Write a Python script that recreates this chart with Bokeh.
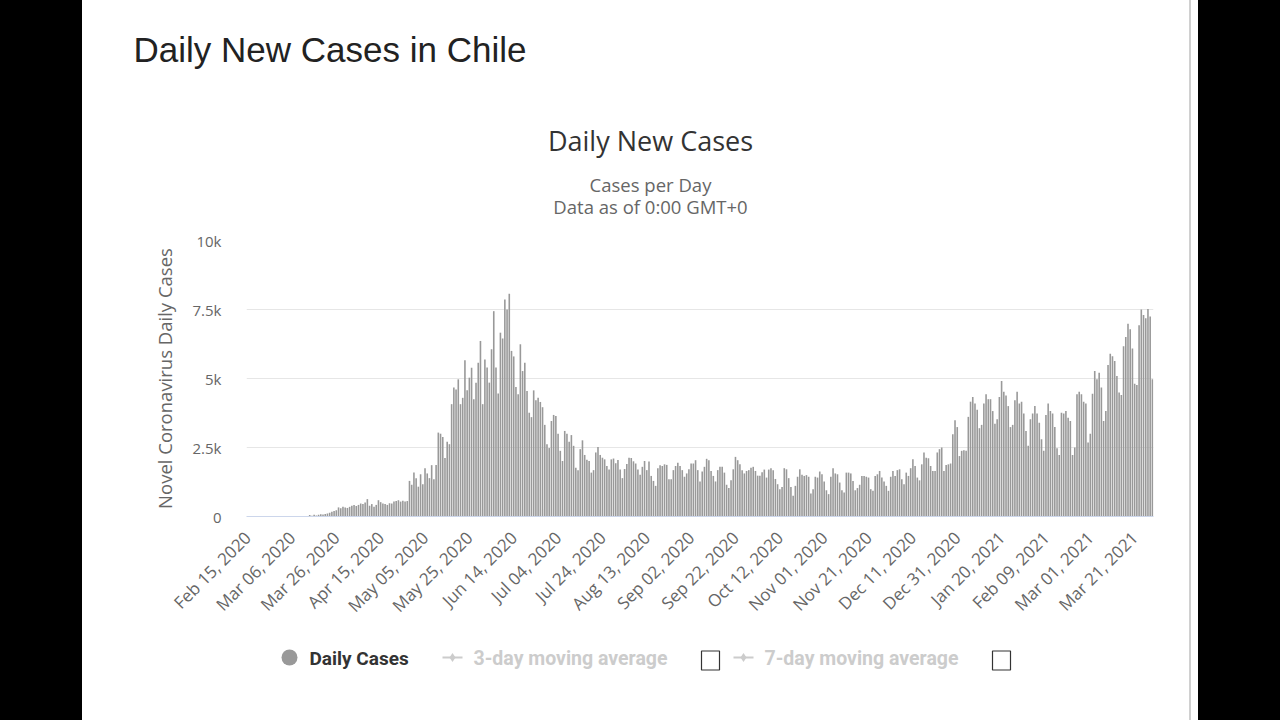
import math
from bokeh.plotting import figure
from bokeh.models import Range1d, FixedTicker, Div
from bokeh.layouts import row, column
from bokeh.core.properties import value
from bokeh.embed import file_html
from bokeh.resources import INLINE

# ---------------- data ----------------
tick_labels = ["Feb 15, 2020", "Mar 06, 2020", "Mar 26, 2020", "Apr 15, 2020", "May 05, 2020",
               "May 25, 2020", "Jun 14, 2020", "Jul 04, 2020", "Jul 24, 2020", "Aug 13, 2020",
               "Sep 02, 2020", "Sep 22, 2020", "Oct 12, 2020", "Nov 01, 2020", "Nov 21, 2020",
               "Dec 11, 2020", "Dec 31, 2020", "Jan 20, 2021", "Feb 09, 2021", "Mar 01, 2021",
               "Mar 21, 2021"]
tick_step = 20

cases_feb_mar = [0] * 17 + [1, 0, 2, 1, 3, 2, 3, 4, 8, 10, 14]
cases_mar_apr = [50, 30, 60, 40, 60, 80, 75, 90, 110, 140, 170, 200, 230, 330, 300, 350, 330,
                 310, 350, 390, 420, 380, 420, 470, 450, 510, 630]
cases_apr = [390, 450, 350, 420, 590, 520, 470, 450, 420, 480, 470, 540, 560, 590, 540, 570,
             540, 560]
cases_may_jun = [1290, 1150, 1590, 1390, 1080, 1530, 1170, 1750, 1560, 1390, 1860, 1350, 1870,
                 3040, 3000, 2880, 2120, 2710, 2620, 4070, 4670, 4600, 4970, 4070, 4300, 5660,
                 4570, 5030, 5390, 4250, 4850, 5570, 6360, 4070, 5690, 5400, 4850, 6060, 7440,
                 5400, 4460, 6660]
cases_jun_aug = [6450, 7860, 7500, 8070, 6000, 5800, 4690, 4430, 6240, 5270,
                 5570, 4550, 3760, 3600, 4570, 4210, 4300, 4150, 3960, 3320,
                 2620, 2480, 3460, 3680, 3640, 3000, 2380, 2010, 3100, 3000,
                 2710, 2950, 2560, 1770, 1680, 2440, 2760, 2230, 2060, 2010,
                 1590, 1680, 2320, 2520, 2230, 2130, 2070, 1830, 1700, 2070,
                 2100, 1930, 2050, 1700, 1390, 1720, 1900, 2130, 2120]
cases_aug_oct = [2000, 1920, 1700, 1510, 1800, 2010, 1680, 1990, 1470, 1290,
                 1110, 1750, 1860, 1830, 1890, 1870, 1350, 1350, 1680, 1830,
                 1950, 1830, 1680, 1440, 1560, 1710, 1920, 1920, 2040, 1680,
                 1270, 1630, 1800, 2090, 2040, 1650, 1470, 1270, 1680, 1800,
                 1800, 1590, 1150, 1030, 1310, 1710, 2160, 2040, 1890, 1680,
                 1560, 1650, 1680, 1770, 1800, 1650, 1480, 1480, 1600, 1700]
cases_oct_nov = [1410, 1700, 1750, 1680, 1360, 1170, 990, 1070, 1750, 1710,
                 1390, 1070, 750, 1110, 1440, 1710, 1510, 1470, 1500, 1440,
                 830, 990, 1440, 1410, 1630, 1530, 1270, 950, 810, 1440,
                 1750, 1560, 1530, 1230, 950, 870, 1590, 1590, 1560, 1290,
                 950, 1030, 1150, 1470, 1470, 1440, 1410, 990, 930, 1470,
                 1530, 1650, 1410, 1270, 1110, 930]
cases_dec_jan = [1440, 1650, 1470, 1680, 1710, 1350, 1170, 1590, 1470, 1750,
                 2070, 1830, 1410, 1310, 1890, 2320, 2130, 2110, 1830, 1650,
                 1650, 2320, 2440, 2500, 1650, 1870, 1890, 1920, 2980, 3490,
                 3240, 2190, 2380, 2400, 2380, 3610, 4160, 4330, 4090, 3870,
                 3200, 3320, 4090, 4430, 4250, 4250, 3820, 3360, 3520, 4330,
                 4910, 4520, 4380, 4000, 3240, 3320, 4210, 4520, 4090, 4160,
                 3730]
cases_feb_mar21 = [3100, 2560, 3520, 3730, 4000, 3730, 3400, 2800, 2380, 3680,
                   4090, 3820, 3730, 3240, 2470, 2230, 3760, 3730, 3820, 3580,
                   3460, 2230, 2500, 4430, 4520, 4430, 4160, 4090, 2680, 3000,
                   4450, 5270, 4970, 5210, 4670, 3460, 3820, 5490, 5900, 5810,
                   5630, 5090, 4490, 4400, 6170, 6500, 6980, 6780, 6090, 4810,
                   4760, 6930, 7500, 7300, 7180, 7520, 7250, 4970]

daily_cases = (cases_feb_mar + cases_mar_apr + cases_apr + cases_may_jun + cases_jun_aug
               + cases_aug_oct + cases_oct_nov + cases_dec_jan + cases_feb_mar21)
day_index = list(range(len(daily_cases)))

y_ticks = [0, 2500, 5000, 7500, 10000]
y_tick_labels = ["0", "2.5k", "5k", "7.5k", "10k"]

page_title = "Daily New Cases in Chile"
chart_title = "Daily New Cases"
subtitle_lines = ["Cases per Day", "Data as of 0:00 GMT+0"]
y_axis_title = "Novel Coronavirus Daily Cases"
legend_names = ["Daily Cases", "3-day moving average", "7-day moving average"]

# ---------------- layout constants (page pixels) ----------------
CARD_L, CARD_R = 82, 1189
W = CARD_R - CARD_L
TOP_H = 225
FT, FB = 240, 516
FL, FR = 246, 1153
MAIN_BOTTOM = 630
MAIN_H = MAIN_BOTTOM - TOP_H
LEG_H = 720 - MAIN_BOTTOM
N = len(daily_cases)


def no_align(f):
    try:
        f.frame_align = False
        return True
    except Exception:
        return False


def blank_fig(h, y0, y1):
    f = figure(width=W, height=h, x_range=Range1d(CARD_L, CARD_R), y_range=Range1d(y1, y0),
               x_axis_type=None, y_axis_type=None, output_backend="svg",
               toolbar_location=None, min_border=0)
    f.outline_line_color = None
    f.xgrid.grid_line_color = None
    f.ygrid.grid_line_color = None
    return f


# ---------------- header ----------------
top = blank_fig(TOP_H, 0, TOP_H)
top.text(x=[133], y=[49], text=[page_title], text_font=value("Liberation Sans"),
         text_font_size="35px", text_color="#222222", text_align="left",
         text_baseline="middle")
top.text(x=[650], y=[140], text=[chart_title], text_font=value("Open Sans"),
         text_font_size="27px", text_color="#333333", text_align="center",
         text_baseline="middle")
top.text(x=[650, 650], y=[184, 206], text=subtitle_lines, text_font=value("Open Sans"),
         text_font_size="18.5px", text_color="#666666", text_align="center",
         text_baseline="middle")

# ---------------- main chart ----------------
p = figure(width=W, height=MAIN_H, x_range=Range1d(-0.5, N - 0.5), y_range=Range1d(0, 10000),
           output_backend="svg", toolbar_location=None,
           min_border_left=FL - CARD_L, min_border_right=CARD_R - FR,
           min_border_top=FT - TOP_H, min_border_bottom=MAIN_BOTTOM - FB)
p.outline_line_color = None

p.vbar(x=day_index, top=daily_cases, width=0.72, fill_color="#999999", line_color=None)

p.xaxis.ticker = FixedTicker(ticks=[i * tick_step for i in range(len(tick_labels))])
p.xaxis.major_label_overrides = {i * tick_step: lab for i, lab in enumerate(tick_labels)}
p.xaxis.major_label_orientation = math.pi / 4
p.xaxis.major_tick_line_color = None
p.xaxis.minor_tick_line_color = None
p.xaxis.axis_line_color = "#ccd6eb"
p.xaxis.major_label_text_font = "Open Sans"
p.xaxis.major_label_text_font_size = "17px"
p.xaxis.major_label_text_color = "#666666"
p.xaxis.major_label_standoff = 12
p.xgrid.grid_line_color = None

p.yaxis.ticker = FixedTicker(ticks=y_ticks)
p.yaxis.major_label_overrides = dict(zip(y_ticks, y_tick_labels))
p.yaxis.axis_line_color = None
p.yaxis.major_tick_line_color = None
p.yaxis.minor_tick_line_color = None
p.yaxis.major_label_text_font = "Open Sans"
p.yaxis.major_label_text_font_size = "15px"
p.yaxis.major_label_text_color = "#666666"
p.yaxis.major_label_standoff = 19
p.yaxis.axis_label = y_axis_title
p.yaxis.axis_label_text_font = "Open Sans"
p.yaxis.axis_label_text_font_style = "normal"
p.yaxis.axis_label_text_font_size = "18.5px"
p.yaxis.axis_label_text_color = "#666666"
p.yaxis.axis_label_standoff = 13
p.ygrid.grid_line_color = "#e6e6e6"

# ---------------- legend strip ----------------
leg = blank_fig(LEG_H, MAIN_BOTTOM, 720)
LY = 657
LEG_FONT = value("Roboto")
leg.scatter(x=[289], y=[LY], size=16, marker="circle", fill_color="#999999", line_color=None)
leg.text(x=[309], y=[LY + 1], text=[legend_names[0]], text_font=LEG_FONT,
         text_font_size="19px", text_font_style="bold", text_color="#333333",
         text_align="left", text_baseline="middle")
for ix, tx, bx, name in [(452, 473, 710, legend_names[1]), (743, 764, 1001, legend_names[2])]:
    leg.segment(x0=[ix - 10], y0=[LY], x1=[ix + 10], y1=[LY], line_color="#cccccc", line_width=2)
    leg.scatter(x=[ix], y=[LY], size=9, marker="diamond", fill_color="#cccccc", line_color=None)
    leg.text(x=[tx], y=[LY + 1], text=[name], text_font=LEG_FONT,
             text_font_size="19.5px", text_font_style="bold", text_color="#cccccc",
             text_align="left", text_baseline="middle")
    leg.rect(x=[bx], y=[660], width=18, height=19, fill_color="white",
             line_color="#333333", line_width=1.2)

ok = all(no_align(f) for f in (top, p, leg))

# ---------------- page frame ----------------
left_black = Div(width=82, height=720, margin=0, styles={"background-color": "black"})
gray_line = Div(width=2, height=720, margin=0, styles={"background-color": "#d0d0d0"})
white_gap = Div(width=7, height=720, margin=0, styles={"background-color": "white"})
right_black = Div(width=82, height=720, margin=0, styles={"background-color": "black"})

if ok:
    middle = column(top, p, leg, spacing=0)
else:
    middle = column(top, row(p, spacing=0), leg, spacing=0)
layout = row(left_black, middle, gray_line, white_gap, right_black, spacing=0)

open("out.html", "w").write(file_html(layout, INLINE))
